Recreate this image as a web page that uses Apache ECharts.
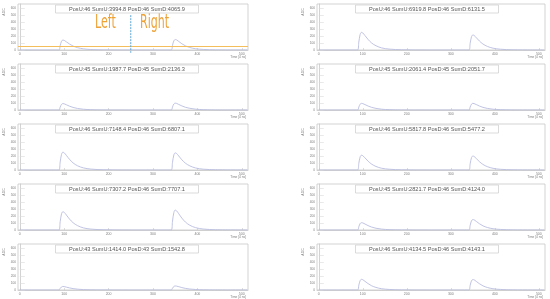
<!DOCTYPE html>
<html><head><meta charset="utf-8">
<script src="https://cdn.jsdelivr.net/npm/echarts@6/dist/echarts.min.js"></script>
<style>html,body{margin:0;padding:0;background:#fff}#c{width:550px;height:299px}</style>
</head><body><div id="c"></div>
<script>
// sample positions (shared by all panels)
const sampleX = [0, 88,91,94,97,100,105,112,120,130,143,160,188, 250, 341,344,347,350,353,358,365,373,383,396,413,441, 512];
const xTicks = [0,100,200,300,400,500];
const yTicks = [0,100,200,300,400,500,600];
const titles = [
  'PosU:46 SumU:3994.8 PosD:46 SumD:4065.9',
  'PosU:46 SumU:6919.8 PosD:46 SumD:6131.5',
  'PosU:45 SumU:1987.7 PosD:45 SumD:2136.3',
  'PosU:45 SumU:2061.4 PosD:45 SumD:2051.7',
  'PosU:46 SumU:7148.4 PosD:46 SumD:6807.1',
  'PosU:46 SumU:5817.8 PosD:46 SumD:5477.2',
  'PosU:46 SumU:7307.2 PosD:46 SumD:7707.1',
  'PosU:45 SumU:2821.7 PosD:46 SumD:4124.0',
  'PosU:43 SumU:1414.0 PosD:43 SumD:1542.8',
  'PosU:46 SumU:4134.5 PosD:46 SumD:4143.1'
];
const wave1L = [0, 0,64,126,143,139,117,86,57,34,17,7,2, 0, 0,68,132,150,146,123,90,60,36,18,8,2, 0];
const wave1R = [0, 0,114,223,253,245,207,152,101,61,30,13,4, 0, 0,97,189,215,209,176,129,86,52,26,11,3, 0];
const wave2L = [0, 0,41,81,92,89,75,55,37,22,11,5,1, 0, 0,44,86,98,95,80,59,39,24,12,5,1, 0];
const wave2R = [0, 0,43,84,95,92,78,57,38,23,11,5,1, 0, 0,43,84,95,92,78,57,38,23,11,5,1, 0];
const wave3L = [0, 0,115,224,255,247,209,153,102,61,31,13,4, 0, 0,110,216,245,238,201,147,98,59,29,12,4, 0];
const wave3R = [0, 0,95,187,212,206,174,127,85,51,25,11,3, 0, 0,90,176,200,194,164,120,80,48,24,10,3, 0];
const wave4L = [0, 0,118,231,262,254,215,157,105,63,31,13,4, 0, 0,128,251,285,276,234,171,114,68,34,14,4, 0];
const wave4R = [0, 0,47,92,105,102,86,63,42,25,13,5,2, 0, 0,68,132,150,146,123,90,60,36,18,8,2, 0];
const wave5L = [0, 0,23,44,50,49,41,30,20,12,6,3,1, 0, 0,26,51,58,56,48,35,23,14,7,3,1, 0];
const wave5R = [0, 0,69,135,153,148,125,92,61,37,18,8,2, 0, 0,68,132,150,146,123,90,60,36,18,8,2, 0];
const waves = [wave1L, wave1R, wave2L, wave2R, wave3L, wave3R, wave4L, wave4R, wave5L, wave5R];
const thresholdY = 50;
const splitX = 250;
const splitTop = 500, splitBottom = -40;

const chart = echarts.init(document.getElementById('c'), null, {renderer: 'canvas'});
const grids = [], xAxes = [], yAxes = [], series = [], titleArr = [];
const frame = '#c8c8c8', txt = '#808080';
for (let i = 0; i < 10; i++) {
  const row = Math.floor(i / 2), col = i % 2;
  const left = col === 0 ? 18 : 317;
  const width = col === 0 ? 230 : 228;
  const top = row * 60 + 4;
  grids.push({left: left, top: top, width: width, height: 46, show: true, borderColor: frame, borderWidth: 0.8, backgroundColor: '#fff'});
  xAxes.push({
    type: 'value', gridIndex: i, min: -4, max: 514,
    name: 'Time [4 ns]', nameLocation: 'end', nameGap: -2,
    nameTextStyle: {fontSize: 3.2, color: txt, align: 'right', verticalAlign: 'top', padding: [6, 0, 0, 0], fontFamily: 'Liberation Sans'},
    axisLine: {show: true, onZero: false, lineStyle: {color: frame, width: 0.8}},
    axisTick: {show: true, inside: true, length: 2, customValues: xTicks, lineStyle: {color: frame, width: 0.6}},
    axisLabel: {show: true, customValues: xTicks, fontSize: 3.5, color: txt, margin: 2, fontFamily: 'Liberation Sans'},
    splitLine: {show: false}
  });
  yAxes.push({
    type: 'value', gridIndex: i, min: 0, max: 660,
    name: 'ADC', nameLocation: 'middle', nameGap: 12, nameRotate: 90,
    nameTextStyle: {fontSize: 3.5, color: txt, padding: [0, 0, 0, 30], fontFamily: 'Liberation Sans'},
    axisLine: {show: true, lineStyle: {color: frame, width: 0.8}},
    axisTick: {show: true, inside: true, length: 5, customValues: yTicks, lineStyle: {color: '#dadada', width: 0.6}},
    axisLabel: {show: true, customValues: yTicks, fontSize: 3.2, color: txt, margin: 2, fontFamily: 'Liberation Sans'},
    splitLine: {show: false}
  });
  series.push({
    type: 'line', xAxisIndex: i, yAxisIndex: i, smooth: 0.35, symbol: 'none',
    data: sampleX.map((x, k) => [x, waves[i][k]]),
    lineStyle: {color: '#b9bddf', width: 0.9}
  });
  titleArr.push({
    text: titles[i], left: col === 0 ? 55 : 355, top: row * 60 + 5,
    padding: [1.5, 14, 1, 14], backgroundColor: '#fff', borderColor: '#d2d2d2', borderWidth: 0.8,
    textStyle: {fontSize: 5.6, fontWeight: 'normal', color: '#555', fontFamily: 'Liberation Sans'}
  });
}
series.push({
  type: 'line', xAxisIndex: 0, yAxisIndex: 0, symbol: 'none',
  data: [[-4, thresholdY], [514, thresholdY]],
  lineStyle: {color: '#f4be5c', width: 1}, z: 3
});
series.push({
  type: 'line', xAxisIndex: 0, yAxisIndex: 0, symbol: 'none', clip: false,
  data: [[splitX, splitTop], [splitX, splitBottom]],
  lineStyle: {color: '#5aa6d6', width: 1, type: [2, 1]}, z: 4
});
chart.setOption({
  animation: false,
  backgroundColor: '#fff',
  title: titleArr,
  grid: grids, xAxis: xAxes, yAxis: yAxes, series: series,
  graphic: [
    {type: 'text', x: 95, y: 14, scaleX: 0.58, style: {text: 'Left', fontSize: 19, fill: '#eea236', fontFamily: '"DejaVu Sans", sans-serif'}},
    {type: 'text', x: 140, y: 14, scaleX: 0.58, style: {text: 'Right', fontSize: 19, fill: '#eea236', fontFamily: '"DejaVu Sans", sans-serif'}}
  ]
});
</script></body></html>
